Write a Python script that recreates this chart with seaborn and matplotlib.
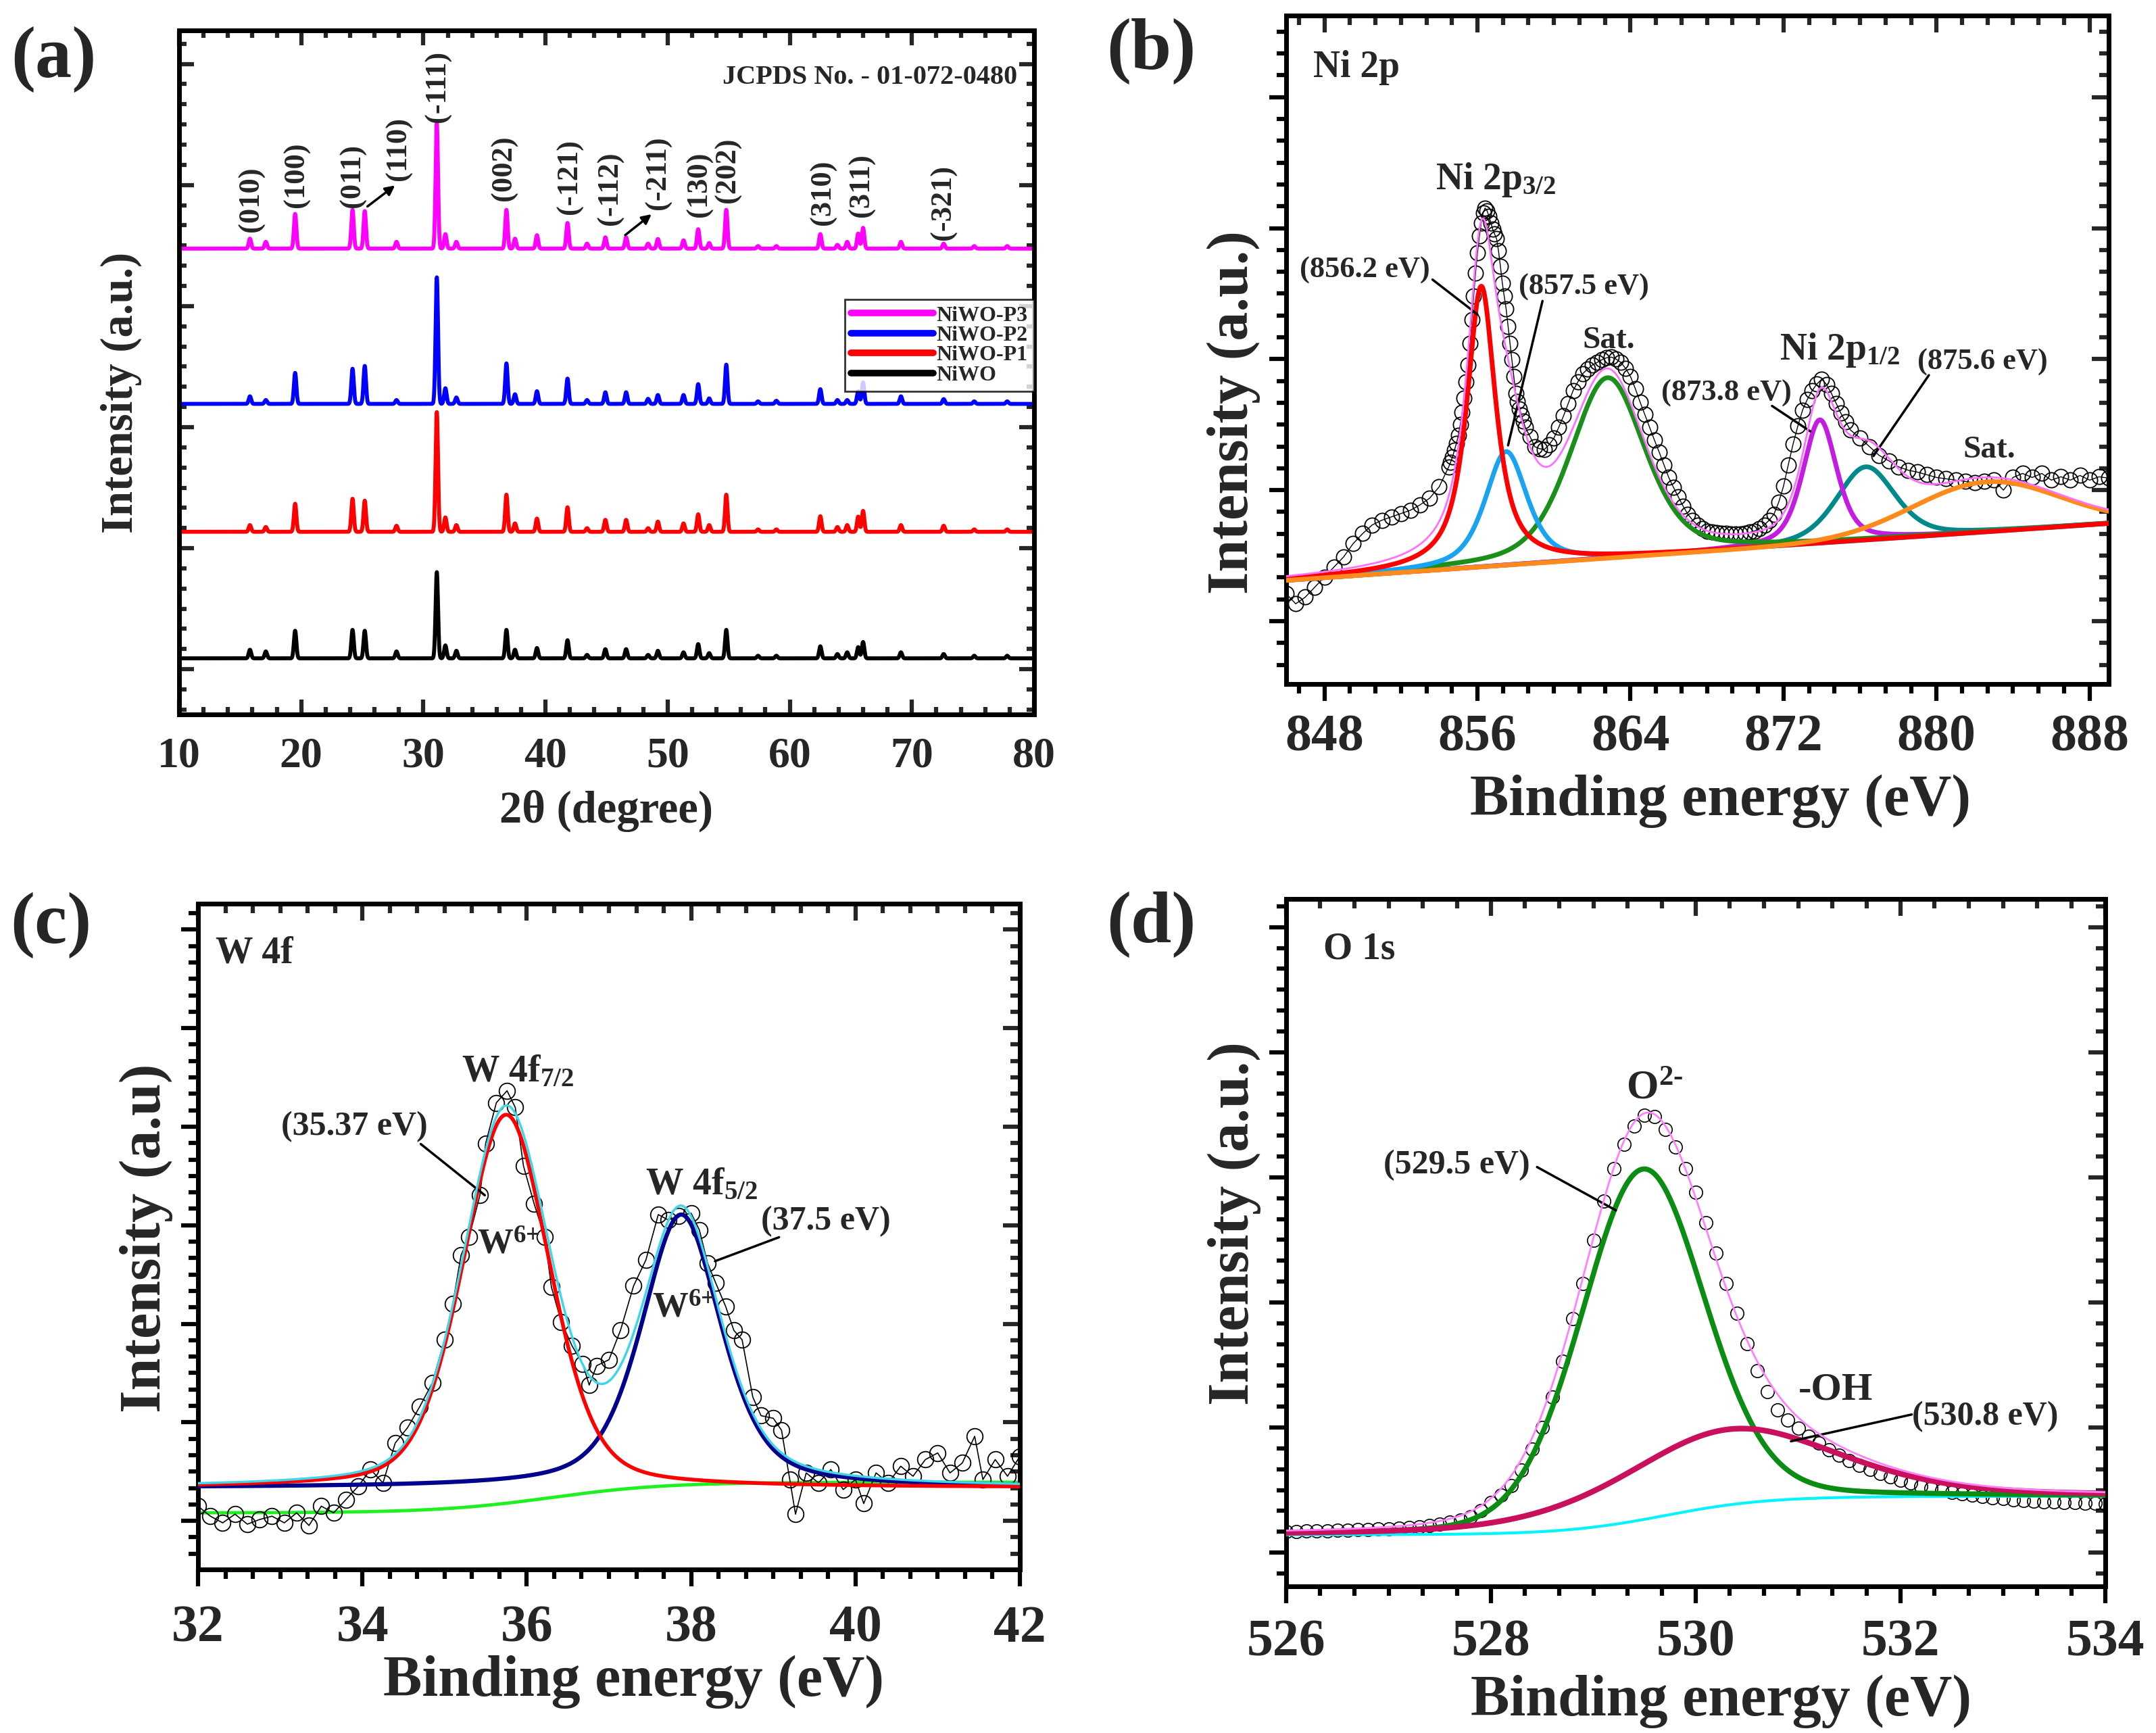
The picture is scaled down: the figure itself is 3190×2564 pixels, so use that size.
import numpy as np
import matplotlib
matplotlib.use("Agg")
import matplotlib.pyplot as plt
from matplotlib.ticker import MultipleLocator, FixedLocator
import seaborn as sns

# ---------------- (a) XRD patterns ----------------
# peak positions (2 theta) shared by all samples, heights above each baseline
xrd_pos = [15.8, 17.1, 19.5, 24.2, 25.2, 27.8, 31.1, 31.8, 32.7, 36.8, 37.5, 39.3, 41.8, 43.4, 44.9, 46.6,
           48.4, 49.2, 51.3, 52.5, 53.4, 54.8, 57.4, 58.9, 62.5, 63.9, 64.7, 65.6, 66.0, 69.1, 72.6, 75.1, 77.8]
xrd_p3 = [1.46, 0.99, 5.07, 5.67, 5.49, 0.99, 18.3, 2.12, 0.99, 5.67, 1.46, 1.96, 3.75, 0.73, 1.65, 1.65,
          0.73, 1.41, 1.21, 2.84, 0.82, 5.67, 0.37, 0.37, 2.12, 0.55, 0.99, 2.2, 3.04, 0.99, 0.73, 0.37, 0.37]
xrd_p2 = [1.11, 0.56, 4.53, 5.14, 5.55, 0.56, 18.5, 2.29, 0.93, 5.92, 1.41, 1.85, 3.7, 0.56, 1.7, 1.7,
          0.74, 1.3, 1.3, 2.89, 0.8, 5.74, 0.37, 0.46, 2.15, 0.56, 0.56, 1.85, 3.15, 1.11, 0.7, 0.37, 0.37]
xrd_p1 = [0.98, 0.7, 4.1, 4.83, 4.55, 0.88, 17.5, 2.1, 0.98, 5.43, 1.23, 1.93, 3.59, 0.53, 1.75, 1.75,
          0.53, 1.49, 1.23, 2.56, 0.98, 5.43, 0.35, 0.35, 2.28, 0.7, 0.98, 2.22, 3.06, 0.98, 0.88, 0.35, 0.35]
xrd_niwo = [1.26, 1.01, 4.03, 4.16, 4.03, 1.01, 12.6, 1.89, 1.1, 4.16, 1.26, 1.51, 2.65, 0.5, 1.34, 1.34,
            0.5, 1.1, 0.88, 2.08, 0.76, 4.16, 0.38, 0.38, 1.76, 0.63, 0.88, 1.64, 2.39, 0.88, 0.63, 0.38, 0.38]
xrd_names = ["NiWO-P3", "NiWO-P2", "NiWO-P1", "NiWO"]
xrd_offsets = [68.1, 45.4, 26.7, 8.2]

hkl_text = ["(010)", "(100)", "(011)", "(110)", "(-111)", "(002)", "(-121)", "(-112)", "(-211)",
            "(130)", "(202)", "(310)", "(311)", "(-321)"]
hkl_x = [15.9, 19.6, 24.2, 28.0, 31.2, 36.6, 42.0, 45.3, 49.2, 52.6, 54.9, 62.7, 65.9, 72.6]
hkl_y = [70.6, 74.1, 74.1, 78.1, 86.6, 75.1, 73.1, 71.5, 73.8, 72.7, 74.8, 71.5, 72.7, 69.4]

# ---------------- (b) Ni 2p ----------------
ni_seg1 = [13.5, 12.0, 13.0, 14.5, 16.0, 17.5, 19.0, 21.0, 22.5, 23.8, 24.5, 25.0, 25.5, 26.0, 26.8, 27.8,
           29.5, 32.5]                                   # 846.0 - 854.5
ni_seg2 = [33.2, 34.0, 35.0, 36.0, 37.2, 38.8, 40.6, 42.8, 45.2, 47.7, 51.0, 54.5, 58.0, 61.5, 64.5, 67.0,
           69.0, 70.5, 71.2, 70.8, 70.0, 69.0, 68.0, 67.3, 66.6, 64.8, 62.5, 60.0, 58.0, 56.1, 53.5, 51.0,
           48.5, 46.0, 43.5, 42.3, 41.2, 40.2, 39.3, 38.4]    # 854.6 - 858.5
ni_seg3 = [37.0, 35.5, 35.2, 35.1, 35.8, 36.8, 38.4, 40.1, 42.0, 43.9, 45.2, 46.4, 47.1, 47.7, 48.1, 48.5,
           48.8, 48.9, 48.6, 48.1, 47.2, 46.0, 44.2, 42.2, 40.3, 38.4, 36.5, 34.7, 32.8, 30.9, 29.4, 28.0,
           26.6, 25.4, 24.5, 23.8, 23.3, 22.9, 22.7, 22.6, 22.5, 22.5, 22.4, 22.4, 22.4, 22.5, 22.7, 22.9,
           23.3, 23.8, 24.5, 25.4, 27.2, 29.6, 32.8, 35.9, 38.6, 41.0, 42.6, 43.9, 44.9, 45.6, 44.8, 43.5,
           42.0, 40.5, 39.2, 38.0]                         # 858.75 - 875.5
ni_seg4 = [36.8, 35.5, 34.2, 33.4, 32.5, 32.0, 31.7, 31.3, 30.9, 30.7, 30.5, 30.3, 30.1, 30.3, 30.5, 29.0,
           30.9, 31.5, 30.9, 31.5, 30.5, 31.0, 30.5, 31.2, 30.5, 31.0, 30.8]   # 876.0 - 889.0
ni_centers = [856.2, 857.5, 862.8, 873.9, 876.3, 882.6]
ni_heights = [42.0, 17.0, 27.0, 18.5, 11.0, 7.5]
ni_fwhm = [1.8, 2.6, 4.6, 2.1, 3.6, 9.0]
ni_eta = [0.85, 0.6, 0.4, 0.5, 0.4, 0.0]
ni_bg = [15.5, 24.0]       # background at 846 and 889 eV

# ---------------- (c) W 4f ----------------
w_be = [32.0, 32.15, 32.3, 32.45, 32.6, 32.75, 32.9, 33.05, 33.2, 33.35, 33.5, 33.65, 33.8, 33.95, 34.1,
        34.25, 34.4, 34.55, 34.7, 34.85, 35.0, 35.1, 35.2, 35.3, 35.43, 35.5, 35.63, 35.76, 35.86, 35.96,
        36.09, 36.22, 36.3, 36.42, 36.55, 36.68, 36.76, 36.85, 37.0, 37.14, 37.3, 37.45, 37.6, 37.72, 37.85,
        38.0, 38.1, 38.2, 38.3, 38.42, 38.52, 38.62, 38.75, 38.85, 39.0, 39.1, 39.2, 39.27, 39.4, 39.55,
        39.7, 39.85, 40.0, 40.1, 40.25, 40.4, 40.55, 40.7, 40.85, 41.0, 41.15, 41.3, 41.45, 41.55, 41.7,
        41.85, 42.0]
w_counts = [9.5, 8.0, 7.0, 8.3, 6.8, 7.5, 8.0, 7.0, 8.5, 6.6, 9.5, 8.5, 10.5, 12.5, 15.0,
            13.0, 19.0, 21.3, 24.5, 28.0, 34.5, 39.9, 47.2, 50.0, 56.2, 64.0, 70.1, 71.9, 69.4, 60.6,
            54.9, 49.9, 42.4, 37.2, 33.6, 30.9, 27.7, 30.6, 31.5, 35.9, 42.6, 46.5, 53.3, 52.5, 53.1,
            53.5, 51.0, 46.0, 43.0, 39.5, 35.9, 34.5, 25.9, 23.1, 22.7, 20.9, 13.5, 8.3, 14.5, 13.0,
            15.0, 12.0, 13.5, 9.9, 14.5, 13.0, 15.5, 14.0, 16.5, 17.5, 14.5, 16.0, 20.0, 13.5, 16.5,
            14.0, 17.0]
w_centers = [35.75, 37.88]
w_heights = [56.0, 41.0]
w_fwhm = [1.25, 1.15]
w_eta = [0.3, 0.5]
w_base = 12.3
w_shirley = [8.5, 13.1, 36.3, 0.7]    # low, high, midpoint, width

# ---------------- (d) O 1s ----------------
o_counts = [8.0, 8.0, 8.05, 8.1, 8.1, 8.15, 8.2, 8.25, 8.3, 8.35,
            8.4, 8.5, 8.6, 8.7, 8.85, 9.0, 9.3, 9.6, 10.1, 11.0,
            12.2, 13.3, 14.7, 16.9, 20.0, 23.1, 27.5, 32.7, 38.9, 44.1,
            50.3, 56.0, 60.8, 64.3, 67.0, 68.5, 68.3, 66.5, 63.9, 60.8,
            57.3, 52.9, 48.5, 44.1, 39.7, 35.3, 31.4, 28.3, 25.7, 24.2,
            23.0, 21.8, 20.8, 19.9, 19.1, 18.3, 17.6, 17.0, 16.4, 15.9,
            15.4, 15.0, 14.6, 14.3, 14.0, 13.7, 13.5, 13.3, 13.1, 12.9,
            12.8, 12.6, 12.5, 12.4, 12.3, 12.3, 12.2, 12.2, 12.1, 12.1, 12.0]   # 526.0 - 534.0, 0.1 eV
o_centers = [529.48, 530.3]
o_heights = [51.0, 11.0]
o_fwhm = [1.42, 2.5]
o_eta = [0.15, 0.35]
o_shirley = [7.5, 13.1, 529.7, 0.5]


def pvoigt(x, c, h, f, eta):
    d2 = ((x - c) / f) ** 2
    return h * ((1 - eta) * np.exp(-4 * np.log(2) * d2) + eta / (1 + 4 * d2))


def step_bg(x, p):
    return p[0] + (p[1] - p[0]) / (1 + np.exp(-(x - p[2]) / p[3]))


sns.set_theme(style="ticks")
plt.rcParams["font.family"] = ["Liberation Serif", "DejaVu Serif"]
plt.rcParams["font.weight"] = "bold"
plt.rcParams["mathtext.fontset"] = "custom"
plt.rcParams["mathtext.rm"] = "Liberation Serif:bold"
plt.rcParams["mathtext.it"] = "Liberation Serif:italic:bold"
plt.rcParams["mathtext.bf"] = "Liberation Serif:bold"

W, H = 3190, 2564
fig = plt.figure(figsize=(W / 100, H / 100), dpi=100)
fig.patch.set_facecolor("white")
axA = fig.add_axes([265 / W, 1 - 1057 / H, 1265 / W, 1012 / H])
axB = fig.add_axes([1903 / W, 1 - 1012 / H, 1217 / W, 989 / H])
axC = fig.add_axes([293 / W, 1 - 2322 / H, 1216 / W, 985 / H])
axD = fig.add_axes([1903 / W, 1 - 2347 / H, 1212 / W, 1017 / H])


def y_ticks(start, step):
    minor = step / 6
    return np.arange(start, 100, step), np.arange(start % minor, 100, minor)


def style_xps(ax, xlim, xmaj, xmin, ystart, ystep, tickpad):
    ax.set_xlim(*xlim)
    ax.set_ylim(0, 100)
    ymaj, ymin = y_ticks(ystart, ystep)
    ax.xaxis.set_major_locator(MultipleLocator(xmaj))
    ax.xaxis.set_minor_locator(MultipleLocator(xmin))
    ax.yaxis.set_major_locator(FixedLocator(ymaj))
    ax.yaxis.set_minor_locator(FixedLocator(ymin))
    ax.tick_params(which="both", direction="out", width=4.5, labelleft=False, color="black")
    ax.tick_params(which="major", length=18)
    ax.tick_params(which="minor", length=10)
    ax.tick_params(axis="x", labelsize=56, pad=tickpad)
    for s in ax.spines.values():
        s.set_linewidth(5)
        s.set_color("black")
    secx = ax.secondary_xaxis("top")
    secx.xaxis.set_major_locator(MultipleLocator(xmaj))
    secx.xaxis.set_minor_locator(MultipleLocator(xmin))
    secx.tick_params(which="both", direction="in", width=4.5, labeltop=False)
    secx.tick_params(which="major", length=18)
    secx.tick_params(which="minor", length=10)
    secy = ax.secondary_yaxis("right")
    secy.yaxis.set_major_locator(FixedLocator(ymaj))
    secy.yaxis.set_minor_locator(FixedLocator(ymin))
    secy.tick_params(which="both", direction="in", width=4.5, labelright=False)
    secy.tick_params(which="major", length=18)
    secy.tick_params(which="minor", length=10)
    for sec in (secx, secy):
        for s in sec.spines.values():
            s.set_linewidth(5)
    for lab in ax.get_xticklabels():
        lab.set_fontweight("bold")


def leader(ax, p0, p1):
    ax.annotate("", xy=p1, xytext=p0,
                arrowprops=dict(arrowstyle="-", color="black", lw=2.5, shrinkA=0, shrinkB=0))


# ================= panel (a) =================
tt = np.linspace(10, 80, 14001)
xrd_sets = [xrd_p3, xrd_p2, xrd_p1, xrd_niwo]
xrd_colors = ["#ff00ff", "#0000ff", "#ff0000", "#000000"]
for name, hts, off, col in zip(xrd_names, xrd_sets, xrd_offsets, xrd_colors):
    prof = np.full_like(tt, off)
    for p, h in zip(xrd_pos, hts):
        prof += h * np.exp(-0.5 * ((tt - p) / 0.1) ** 2)
    sns.lineplot(x=tt, y=prof, ax=axA, color=col, lw=4.2, label=name, estimator=None, sort=False)

for t, x, y in zip(hkl_text, hkl_x, hkl_y):
    axA.text(x, y, t, rotation=90, ha="center", va="bottom", fontsize=32, fontweight="bold")
axA.annotate("", xy=(27.8, 77.5), xytext=(25.3, 74.1),
             arrowprops=dict(arrowstyle="-|>,head_width=0.35,head_length=0.7", color="black", lw=2.5))
axA.annotate("", xy=(48.8, 73.3), xytext=(46.4, 69.9),
             arrowprops=dict(arrowstyle="-|>,head_width=0.35,head_length=0.7", color="black", lw=2.5))
axA.text(78.6, 93.1, "JCPDS No. - 01-072-0480", ha="right", va="center", fontsize=29, fontweight="bold")

axA.set_xlim(10, 80)
axA.set_ylim(0, 100)
axA.xaxis.set_major_locator(MultipleLocator(10))
axA.xaxis.set_minor_locator(MultipleLocator(2))
ymaj, ymin = y_ticks(6.6, 17.7)
axA.yaxis.set_major_locator(FixedLocator(ymaj))
axA.yaxis.set_minor_locator(FixedLocator(ymin))
axA.tick_params(which="both", direction="in", top=True, right=True, width=4.5, labelleft=False)
axA.tick_params(which="major", length=16)
axA.tick_params(which="minor", length=8)
axA.tick_params(axis="x", labelsize=46, pad=24)
for s in axA.spines.values():
    s.set_linewidth(5)
    s.set_color("black")
for lab in axA.get_xticklabels():
    lab.set_fontweight("bold")
axA.set_xlabel("2θ (degree)", fontsize=48, fontweight="bold", va="center")
axA.xaxis.set_label_coords(0.4996, -0.141)
axA.set_ylabel("Intensity (a.u.)", fontsize=48, fontweight="bold", va="center")
axA.yaxis.set_label_coords(-0.068, 0.47)
leg = axA.legend(loc="upper right", bbox_to_anchor=(1.0, 0.607), borderaxespad=0, fontsize=23,
                 frameon=True, fancybox=False, edgecolor="black", labelspacing=0.0, borderpad=0.3,
                 handlelength=3.8, handletextpad=0.15)
leg.get_frame().set_linewidth(2)
for line in leg.get_lines():
    line.set_linewidth(7)

# ================= panel (b) =================
ni_be = np.concatenate([np.linspace(846.0, 854.5, len(ni_seg1)), np.linspace(854.6, 858.5, len(ni_seg2)),
                        np.linspace(858.75, 875.5, len(ni_seg3)), np.linspace(876.0, 889.0, len(ni_seg4))])
ni_counts = np.array(ni_seg1 + ni_seg2 + ni_seg3 + ni_seg4)
xb = np.linspace(846, 889, 1200)
bgb = ni_bg[0] + (ni_bg[1] - ni_bg[0]) * (xb - 846) / 43
sns.lineplot(x=ni_be, y=ni_counts, ax=axB, color="black", lw=1.0, marker="o", markersize=16,
             markerfacecolor="none", markeredgecolor="black", markeredgewidth=1.3,
             estimator=None, sort=False, zorder=2)
ni_colors = ["#ff0000", "#1aa3f0", "#1a8f1a", "#c21de0", "#00898a", "#ff8a1c"]
ni_order = [4, 3, 2, 1, 0, 5]
env_b = bgb.copy()
for i in range(6):
    env_b += pvoigt(xb, ni_centers[i], ni_heights[i], ni_fwhm[i], ni_eta[i])
for i in ni_order:
    sns.lineplot(x=xb, y=bgb + pvoigt(xb, ni_centers[i], ni_heights[i], ni_fwhm[i], ni_eta[i]),
                 ax=axB, color=ni_colors[i], lw=5, estimator=None, sort=False, zorder=3)
sns.lineplot(x=xb, y=env_b, ax=axB, color="#ff70ff", lw=2, estimator=None, sort=False, zorder=4)

style_xps(axB, (846, 889), 8, 8 / 6, 9.4, 19.6, 14)
axB.text(847.4, 92.2, "Ni 2p", fontsize=40, fontweight="bold", va="center")
axB.text(853.8, 74.0, r"Ni 2p$_{\text{3/2}}$", fontsize=40, fontweight="bold", va="baseline")
axB.text(846.7, 61.9, "(856.2 eV)", fontsize=32, fontweight="bold", va="center")
leader(axB, (853.65, 60.5), (856.0, 55.3))
axB.text(858.15, 59.4, "(857.5 eV)", fontsize=32, fontweight="bold", va="center")
leader(axB, (859.4, 57.3), (857.6, 35.7))
axB.text(861.5, 51.4, "Sat.", fontsize=34, fontweight="bold", va="center")
axB.text(871.8, 48.5, r"Ni 2p$_{\text{1/2}}$", fontsize=40, fontweight="bold", va="baseline")
axB.text(865.6, 43.5, "(873.8 eV)", fontsize=32, fontweight="bold", va="center")
leader(axB, (871.4, 41.6), (873.4, 37.8))
axB.text(879.0, 48.1, "(875.6 eV)", fontsize=32, fontweight="bold", va="center")
leader(axB, (879.6, 46.2), (876.7, 34.1))
axB.text(881.4, 35.0, "Sat.", fontsize=34, fontweight="bold", va="center")
axB.set_xlabel("Binding energy (eV)", fontsize=62, fontweight="bold", va="center")
axB.xaxis.set_label_coords(0.528, -0.175)
axB.set_ylabel("Intensity (a.u.)", fontsize=62, fontweight="bold", va="center")
axB.yaxis.set_label_coords(-0.064, 0.406)

# ================= panel (c) =================
xc = np.linspace(32, 42, 1200)
red_c = w_base + pvoigt(xc, w_centers[0], w_heights[0], w_fwhm[0], w_eta[0])
navy_c = w_base + pvoigt(xc, w_centers[1], w_heights[1], w_fwhm[1], w_eta[1])
env_c = red_c + navy_c - w_base
sns.lineplot(x=xc, y=step_bg(xc, w_shirley), ax=axC, color="#1ff01f", lw=3.5, estimator=None, sort=False,
             zorder=2)
sns.lineplot(x=w_be, y=w_counts, ax=axC, color="black", lw=1.2, marker="o", markersize=17,
             markerfacecolor="none", markeredgecolor="black", markeredgewidth=1.3,
             estimator=None, sort=False, zorder=2)
sns.lineplot(x=xc, y=navy_c, ax=axC, color="#00008c", lw=4.5, estimator=None, sort=False, zorder=3)
sns.lineplot(x=xc, y=red_c, ax=axC, color="#ff0000", lw=4.0, estimator=None, sort=False, zorder=3)
sns.lineplot(x=xc, y=env_c, ax=axC, color="#3fd6ea", lw=2.5, estimator=None, sort=False, zorder=4)

style_xps(axC, (32, 42), 2, 1 / 3, 7.3, 14.8, 20)
axC.text(32.21, 92.5, "W 4f", fontsize=40, fontweight="bold", va="center")
axC.text(35.21, 73.3, r"W 4f$_{\text{7/2}}$", fontsize=40, fontweight="bold", va="baseline")
axC.text(33.01, 66.5, "(35.37 eV)", fontsize=36, fontweight="bold", va="center")
leader(axC, (34.71, 63.9), (35.49, 56.2))
axC.text(35.4, 47.4, r"W$^{\text{6+}}$", fontsize=38, fontweight="bold", va="baseline")
axC.text(37.44, 56.3, r"W 4f$_{\text{5/2}}$", fontsize=40, fontweight="bold", va="baseline")
axC.text(38.85, 52.3, "(37.5 eV)", fontsize=36, fontweight="bold", va="center")
leader(axC, (39.07, 49.9), (38.29, 46.3))
axC.text(37.53, 37.9, r"W$^{\text{6+}}$", fontsize=38, fontweight="bold", va="baseline")
axC.set_xlabel("Binding energy (eV)", fontsize=62, fontweight="bold", va="center")
axC.xaxis.set_label_coords(0.530, -0.169)
axC.set_ylabel("Intensity (a.u)", fontsize=62, fontweight="bold", va="center")
axC.yaxis.set_label_coords(-0.063, 0.498)

# ================= panel (d) =================
o_be = np.linspace(526.0, 534.0, len(o_counts))
xd = np.linspace(526, 534, 1200)
bgd = step_bg(xd, o_shirley)
green_d = bgd + pvoigt(xd, o_centers[0], o_heights[0], o_fwhm[0], o_eta[0])
crim_d = bgd + pvoigt(xd, o_centers[1], o_heights[1], o_fwhm[1], o_eta[1])
env_d = green_d + crim_d - bgd
sns.lineplot(x=o_be, y=o_counts, ax=axD, color="black", lw=0, marker="o", markersize=14,
             markerfacecolor="none", markeredgecolor="black", markeredgewidth=1.2,
             estimator=None, sort=False, zorder=2)
sns.lineplot(x=xd, y=bgd, ax=axD, color="#00f5ff", lw=3, estimator=None, sort=False, zorder=3)
sns.lineplot(x=xd, y=green_d, ax=axD, color="#0b8c12", lw=5.5, estimator=None, sort=False, zorder=3)
sns.lineplot(x=xd, y=crim_d, ax=axD, color="#c8105e", lw=6, estimator=None, sort=False, zorder=3)
sns.lineplot(x=xd, y=env_d, ax=axD, color="#ff80ff", lw=2, estimator=None, sort=False, zorder=4)

style_xps(axD, (526, 534), 2, 1 / 3, 4.9, 18.2, 17)
axD.text(526.36, 92.7, "O 1s", fontsize=40, fontweight="bold", va="center")
axD.text(529.32, 70.9, r"O$^{\text{2-}}$", fontsize=44, fontweight="bold", va="baseline")
axD.text(526.95, 61.3, "(529.5 eV)", fontsize=36, fontweight="bold", va="center")
leader(axD, (528.45, 61.0), (529.22, 54.7))
axD.text(531.0, 27.2, "-OH", fontsize=42, fontweight="bold", va="baseline")
axD.text(532.11, 24.7, "(530.8 eV)", fontsize=36, fontweight="bold", va="center")
leader(axD, (532.11, 25.0), (530.93, 21.1))
axD.set_xlabel("Binding energy (eV)", fontsize=62, fontweight="bold", va="center")
axD.xaxis.set_label_coords(0.531, -0.167)
axD.set_ylabel("Intensity (a.u.)", fontsize=62, fontweight="bold", va="center")
axD.yaxis.set_label_coords(-0.063, 0.528)

# panel letters
for lab, x, y in [("(a)", 16, 88), ("(b)", 1637, 76), ("(c)", 15, 1369), ("(d)", 1637, 1368)]:
    fig.text(x / W, 1 - y / H, lab, fontsize=78, fontweight="bold", ha="left", va="center")

fig.savefig("out.png", dpi=100)
